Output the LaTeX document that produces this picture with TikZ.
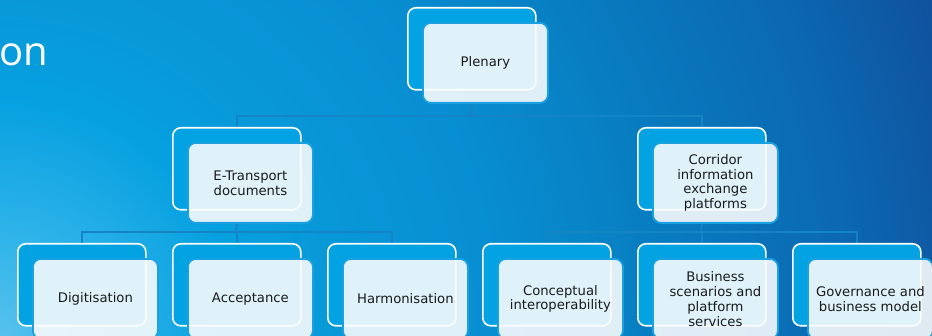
\documentclass[tikz,border=0pt]{standalone}
\usepackage{fontspec}
\setmainfont{DejaVu Sans}
\newfontfamily\titlefont{Open Sans}
\definecolor{bgA}{HTML}{58C2EE}
\definecolor{bgB}{HTML}{30B4EA}
\definecolor{bgC}{HTML}{06A0E0}
\definecolor{bgD}{HTML}{0898D8}
\definecolor{bgE}{HTML}{088ED2}
\definecolor{bgF}{HTML}{087EC2}
\definecolor{bgG}{HTML}{0B68B2}
\definecolor{bgH}{HTML}{10509C}
\definecolor{bkfill}{HTML}{02A2E3}
\definecolor{frfill}{HTML}{FBFCFD}
\definecolor{frborder}{HTML}{1BA1E2}
\definecolor{lineblue}{HTML}{1484C4}
\definecolor{txt}{HTML}{1A1A1A}
\pgfdeclarelayer{bglayer}
\pgfdeclarelayer{linelayer}
\pgfsetlayers{bglayer,linelayer,main}
\begin{document}
\begin{tikzpicture}[x=1pt,y=-1pt,
  backbox/.style={draw=white, line width=1.6pt, fill=bkfill, rounded corners=8pt,
    minimum width=128pt, minimum height=82pt, inner sep=0pt, anchor=north west},
  frontbox/.style={draw=frborder, line width=1.8pt, fill=frfill, fill opacity=0.89,
    text opacity=1, rounded corners=8pt, minimum width=125pt, minimum height=80pt,
    inner sep=1pt, align=center, anchor=north west,
    font=\fontsize{13.2}{14.8}\selectfont, text=txt},
  conn/.style={draw=lineblue, line width=2pt}]
\useasboundingbox (0,0) rectangle (932,336);
\clip (0,0) rectangle (932,336);
\begin{pgfonlayer}{bglayer}
\fill[bgH] (0,0) rectangle (932,336);
\coordinate (gc) at (0,336);
\foreach \r [evaluate=\r as \p using {(\r-850)/1.5}] in {1000,996,...,852}
  {\fill[bgH!\p!bgG] (gc) circle[radius=\r pt];}
\foreach \r [evaluate=\r as \p using {(\r-650)/2}] in {850,846,...,652}
  {\fill[bgG!\p!bgF] (gc) circle[radius=\r pt];}
\foreach \r [evaluate=\r as \p using {(\r-500)/1.5}] in {650,646,...,502}
  {\fill[bgF!\p!bgE] (gc) circle[radius=\r pt];}
\foreach \r [evaluate=\r as \p using {(\r-340)/1.6}] in {500,496,...,342}
  {\fill[bgE!\p!bgD] (gc) circle[radius=\r pt];}
\foreach \r [evaluate=\r as \p using {(\r-240)/1}] in {340,336,...,242}
  {\fill[bgD!\p!bgC] (gc) circle[radius=\r pt];}
\foreach \r [evaluate=\r as \p using {(\r-100)/1.4}] in {240,236,...,102}
  {\fill[bgC!\p!bgB] (gc) circle[radius=\r pt];}
\foreach \r [evaluate=\r as \p using {(\r)/1}] in {100,96,...,4}
  {\fill[bgB!\p!bgA] (gc) circle[radius=\r pt];}
\end{pgfonlayer}
\node[anchor=base west, text=white, inner sep=0pt,
  font=\titlefont\fontsize{40}{48}\selectfont] (ttl) at (-1,66) {on};
% back boxes
\node[backbox] (pl-b) at (407,7) {};
\node[backbox] (et-b) at (172,127) {};
\node[backbox] (co-b) at (637,127) {};
\node[backbox] (dg-b) at (17,243) {};
\node[backbox] (ac-b) at (172,243) {};
\node[backbox] (hm-b) at (327,243) {};
\node[backbox] (ci-b) at (482,243) {};
\node[backbox] (bs-b) at (637,243) {};
\node[backbox] (gv-b) at (792,243) {};
% front boxes
\node[frontbox] (pl) at (422,22) {Plenary};
\node[frontbox] (et) at (187,142) {E-Transport\\documents};
\node[frontbox] (co) at (652,142) {Corridor\\information\\exchange\\platforms};
\node[frontbox] (dg) at (32,258) {Digitisation};
\node[frontbox] (ac) at (187,258) {Acceptance};
\node[frontbox] (hm) at (342,258) {Harmonisation};
\node[frontbox] (ci) at (497,258) {Conceptual\\interoperability};
\node[frontbox] (bs) at (652,258) {Business\\scenarios and\\platform\\services};
\node[frontbox] (gv) at (807,258) {Governance and\\business model};
% connectors (drawn behind boxes)
\begin{pgfonlayer}{linelayer}
\coordinate (j1) at (471,116);
\coordinate (j2) at (236,232);
\coordinate (j3) at (701,232);
\draw[conn] (pl.south -| pl-b.south) -- (j1);
\draw[conn] (j1) -| (et-b.north);
\draw[conn] (j1) -| (co-b.north);
\draw[conn] (et.south -| et-b.south) -- (j2);
\draw[conn] (j2) -| (dg-b.north);
\draw[conn] (j2) -| (ac-b.north);
\draw[conn] (j2) -| (hm-b.north);
\draw[conn] (co.south -| co-b.south) -- (j3);
\draw[conn] (j3) -| (ci-b.north);
\draw[conn] (j3) -| (bs-b.north);
\draw[conn] (j3) -| (gv-b.north);
\end{pgfonlayer}
\end{tikzpicture}
\end{document}
